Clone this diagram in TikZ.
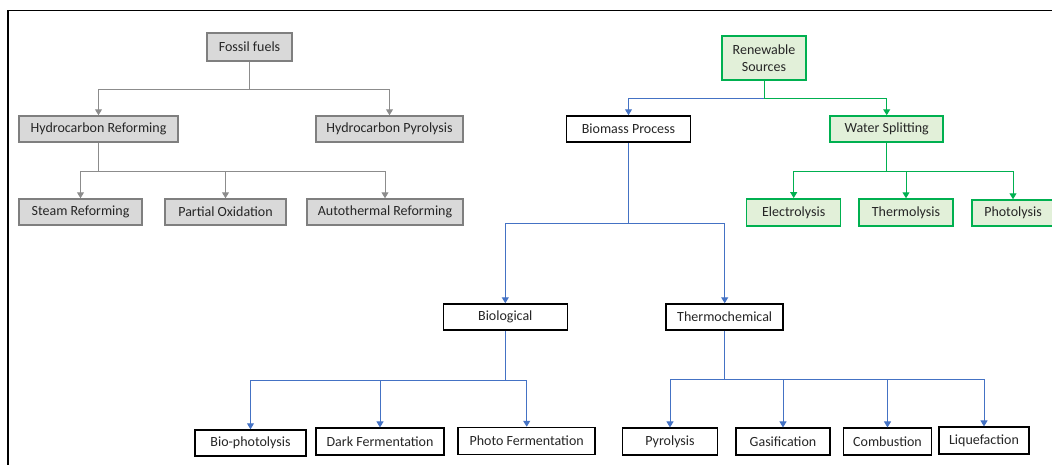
\documentclass[tikz,border=0pt]{standalone}
\usepackage{fontspec}
\setmainfont{Carlito}
\usetikzlibrary{arrows.meta}
\definecolor{gfill}{HTML}{D9D9D9}
\definecolor{gborder}{HTML}{7F7F7F}
\definecolor{gline}{HTML}{8C8C8C}
\definecolor{bline}{HTML}{4472C4}
\definecolor{grn}{HTML}{00B050}
\definecolor{grnfill}{HTML}{E2F0D9}
\definecolor{txt}{HTML}{262626}
\tikzset{
  box/.style={draw, line width=1.5pt, inner sep=0pt, anchor=center, align=center, text=txt,
    font=\fontsize{14}{17.5}\selectfont},
  graybox/.style={box, draw=gborder, fill=gfill},
  blackbox/.style={box, draw=black, fill=white},
  greenbox/.style={box, draw=grn, fill=grnfill},
  tip/.style={-{Triangle[width=7pt,length=6pt]}},
  gconn/.style={draw=gline, line width=1pt},
  bconn/.style={draw=bline, line width=1pt},
  nconn/.style={draw=grn, line width=1pt},
}
\begin{document}
\begin{tikzpicture}[x=1pt,y=-1pt]
\useasboundingbox (0,0) rectangle (1052,464);
\begin{scope}
\clip (0,0) rectangle (1052,464);
% frame
\draw[line width=1.5pt] (8,470) -- (8,10.5) -- (1060,10.5);

% fossil side
\node[graybox, minimum width=85pt, minimum height=28pt] (fossil) at (249.5,47) {Fossil fuels};
\node[graybox, minimum width=159pt, minimum height=26pt] (hr) at (98.5,129) {Hydrocarbon Reforming};
\node[graybox, minimum width=147pt, minimum height=26pt] (hp) at (389.5,129) {Hydrocarbon Pyrolysis};
\node[graybox, minimum width=123pt, minimum height=26pt] (sr) at (80.5,212) {Steam Reforming};
\node[graybox, minimum width=121pt, minimum height=26pt] (po) at (225.5,212) {Partial Oxidation};
\node[graybox, minimum width=156pt, minimum height=26pt] (ar) at (385,212) {Autothermal Reforming};

% renewable side
\node[greenbox, minimum width=84pt, minimum height=44pt] (ren) at (764,58) {Renewable\\Sources};
\node[blackbox, minimum width=124pt, minimum height=26pt] (bio) at (628.5,129) {Biomass Process};
\node[greenbox, minimum width=113pt, minimum height=26pt] (ws) at (886.7,129) {Water Splitting};
\node[greenbox, minimum width=94pt, minimum height=27pt] (el) at (793.7,212.3) {Electrolysis};
\node[greenbox, minimum width=94pt, minimum height=27pt] (th) at (906,212.5) {Thermolysis};
\node[greenbox, minimum width=82pt, minimum height=26pt] (ph) at (1013,213) {Photolysis};

\node[blackbox, minimum width=124pt, minimum height=26pt] (biol) at (505.3,317) {Biological};
\node[blackbox, minimum width=117pt, minimum height=26pt] (therm) at (724.7,317) {Thermochemical};

\node[blackbox, minimum width=111pt, minimum height=26pt] (bp) at (250.5,443) {Bio-photolysis};
\node[blackbox, minimum width=128pt, minimum height=27pt] (df) at (380,441.7) {Dark Fermentation};
\node[blackbox, minimum width=137pt, minimum height=27pt] (pf) at (526.7,441) {Photo Fermentation};

\node[blackbox, minimum width=95pt, minimum height=27pt] (py) at (670,441.7) {Pyrolysis};
\node[blackbox, minimum width=94pt, minimum height=27pt] (ga) at (783,441.7) {Gasification};
\node[blackbox, minimum width=88pt, minimum height=27pt] (co) at (887.5,441.7) {Combustion};
\node[blackbox, minimum width=90pt, minimum height=27pt] (li) at (984,440.7) {Liquefaction};

% junctions
\coordinate (jf) at (fossil.south |- 0,89);
\coordinate (jh) at (hr.south |- 0,171);
\coordinate (jr) at (ren.south |- 0,98);
\coordinate (jb) at (bio.south |- 0,223);
\coordinate (jw) at (ws.south |- 0,171);
\coordinate (jbl) at (biol.south |- 0,380);
\coordinate (jt) at (therm.south |- 0,379.5);

% fossil connectors
\draw[gconn] (fossil.south) -- (jf);
\draw[gconn, tip] (jf) -| (hr);
\draw[gconn, tip] (jf) -| (hp);
\draw[gconn] (hr.south) -- (jh);
\draw[gconn, tip] (jh) -| (sr);
\draw[gconn, tip] (jh) -| (po);
\draw[gconn, tip] (jh) -| (ar);

% renewable connectors
\draw[nconn] (ren.south) -- (jr);
\draw[bconn, tip] (jr) -| (bio);
\draw[nconn, tip] (jr) -| (ws);
\draw[nconn] (ws.south) -- (jw);
\draw[nconn, tip] (jw) -| (el);
\draw[nconn, tip] (jw) -| (th);
\draw[nconn, tip] (jw) -| (ph);

\draw[bconn] (bio.south) -- (jb);
\draw[bconn, tip] (jb) -| (biol);
\draw[bconn, tip] (jb) -| (therm);

\draw[bconn] (biol.south) -- (jbl);
\draw[bconn, tip] (jbl) -| (bp);
\draw[bconn, tip] (jbl) -| (df);
\draw[bconn, tip] (jbl) -| (pf);

\draw[bconn] (therm.south) -- (jt);
\draw[bconn, tip] (jt) -| (py);
\draw[bconn, tip] (jt) -| (ga);
\draw[bconn, tip] (jt) -| (co);
\draw[bconn, tip] (jt) -| (li);
\end{scope}
\end{tikzpicture}
\end{document}
